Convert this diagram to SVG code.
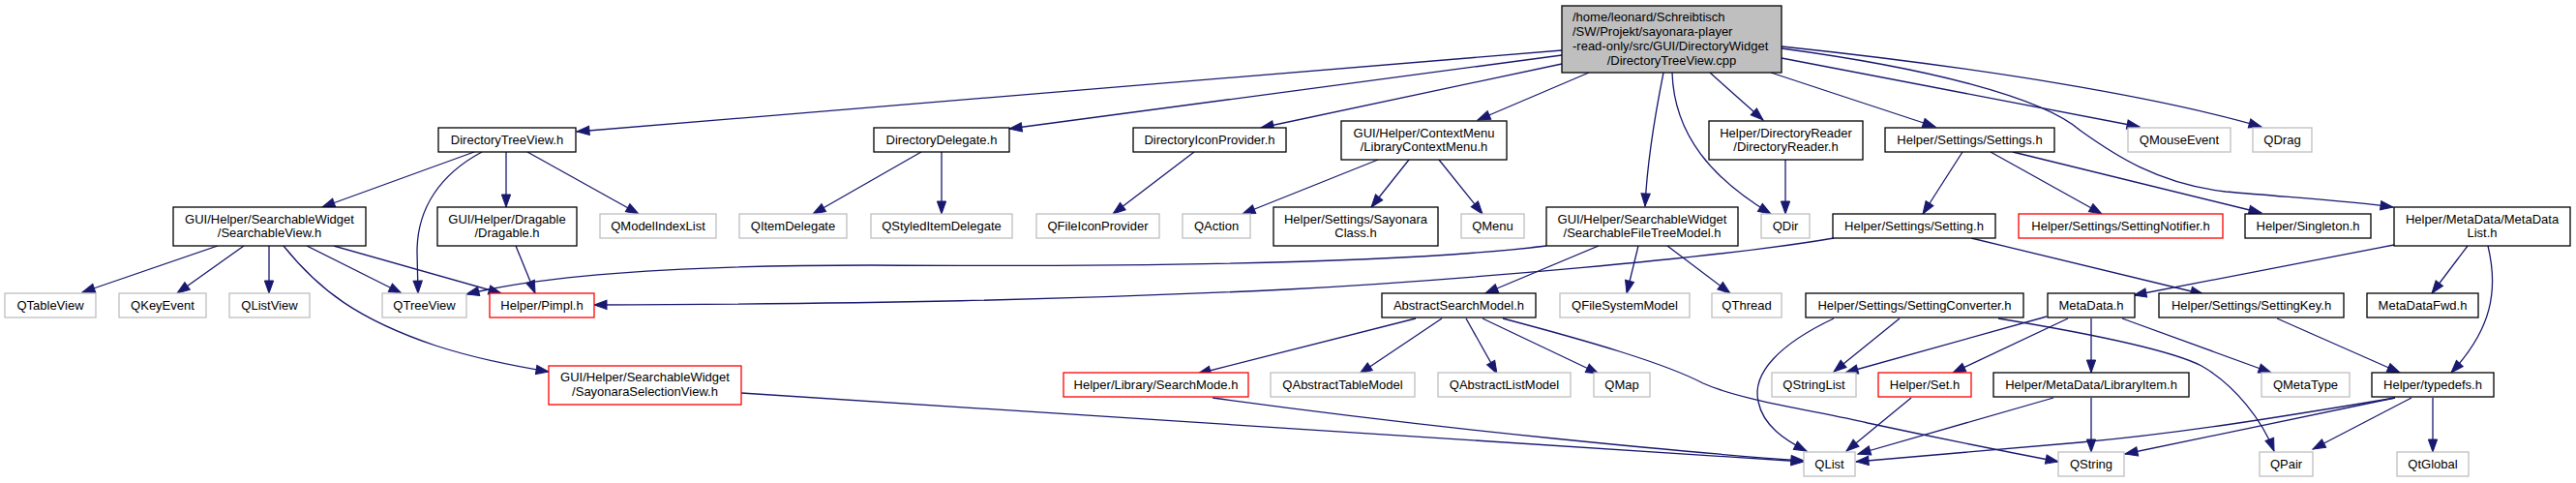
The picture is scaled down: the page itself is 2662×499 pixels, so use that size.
<svg xmlns="http://www.w3.org/2000/svg" width="2662" height="499" viewBox="0 0 2662 499">
<style>
.b{fill:#fff;stroke:#000;stroke-width:1.3}
.g{fill:#fff;stroke:#bfbfbf;stroke-width:1.3}
.r{fill:#fff;stroke:#ff0000;stroke-width:1.3}
.root{fill:#bfbfbf;stroke:#000;stroke-width:1.3}
text{font-family:"Liberation Sans",Arial,Helvetica,sans-serif;font-size:13px;fill:#000;text-anchor:middle}
.e path{fill:none;stroke:#191970;stroke-width:1.3;marker-end:url(#a)}
</style>
<defs>
<marker id="a" markerWidth="14" markerHeight="10" refX="13" refY="4.65" orient="auto" markerUnits="userSpaceOnUse" overflow="visible"><path d="M0,0 L13,4.65 L0,9.3 z" fill="#191970" stroke="#191970" stroke-width="1"/></marker>
</defs>
<rect width="2662" height="499" fill="#fff"/>
<g class="e" id="edges">
<path d="M1614,52 L596,136"/>
<path d="M1614,57 L1043,133"/>
<path d="M1614,66 L1303,132"/>
<path d="M1642,75 L1527,124"/>
<path d="M1719,75 C1710,120 1702,170 1700,213"/>
<path d="M1728,75 C1730,140 1770,185 1830,221"/>
<path d="M1767,75 L1822,124"/>
<path d="M1830,75 L2000,131"/>
<path d="M1841,60 L2211,131"/>
<path d="M1841,48 C2050,70 2230,100 2337,131"/>
<path d="M1841,50 C1990,70 2110,100 2150,135 C2185,160 2230,190 2300,198 C2380,205 2430,208 2473,214"/>
<path d="M1845,165 L1845,221"/>
<path d="M2028,157 L1987,221"/>
<path d="M2057,157 L2172,221"/>
<path d="M2080,157 L2337,220"/>
<path d="M490,157 L333,214"/>
<path d="M498,157 C455,180 431,215 431,260 L432,303"/>
<path d="M523,157 L523,214"/>
<path d="M545,157 L660,221"/>
<path d="M533,254 L553,303"/>
<path d="M952,157 L840,221"/>
<path d="M973,157 L973,221"/>
<path d="M1234,157 L1150,221"/>
<path d="M1424,165 L1284,221"/>
<path d="M1456,165 L1417,214"/>
<path d="M1487,165 L1532,221"/>
<path d="M1652,254 L1535,303"/>
<path d="M1693,254 L1681,303"/>
<path d="M1723,254 L1788,303"/>
<path d="M1598,254 C1450,272 1200,276 900,274 C700,274 560,285 482,304"/>
<path d="M1895,246 C1780,266 1500,290 1330,299 C1100,310 900,314 614,315"/>
<path d="M225,254 L85,302"/>
<path d="M252,254 L183,303"/>
<path d="M278,254 L278,303"/>
<path d="M293,254 C330,300 370,330 450,357 C490,370 530,378 567,384"/>
<path d="M317,254 L415,303"/>
<path d="M345,254 L518,303"/>
<path d="M766,406 L1864,477"/>
<path d="M1253,411 C1500,445 1750,468 1864,476"/>
<path d="M1463,329 L1238,386"/>
<path d="M1490,329 L1405,386"/>
<path d="M1515,329 L1547,386"/>
<path d="M1532,329 L1652,386"/>
<path d="M1553,329 C1640,352 1720,375 1760,396 C1800,414 1880,425 1930,437 C2000,452 2080,468 2127,477"/>
<path d="M1895,329 C1840,355 1810,385 1817,415 C1822,440 1845,455 1867,466"/>
<path d="M1963,329 L1895,384"/>
<path d="M2065,329 C2150,343 2240,360 2275,378 C2310,398 2338,435 2350,466"/>
<path d="M2037,246 L2277,304"/>
<path d="M2474,253 L2205,305"/>
<path d="M2550,254 L2513,303"/>
<path d="M2571,254 C2582,300 2575,340 2533,385"/>
<path d="M2353,329 L2480,385"/>
<path d="M2115,327 L1907,385"/>
<path d="M2137,329 L2018,385"/>
<path d="M2161,329 L2161,385"/>
<path d="M2193,329 L2347,385"/>
<path d="M2122,411 L1920,469"/>
<path d="M2161,411 L2161,467"/>
<path d="M1975,411 L1908,466"/>
<path d="M2475,411 C2350,432 2250,448 2150,457 C2050,465 1970,473 1918,477"/>
<path d="M2475,411 L2196,469"/>
<path d="M2492,411 L2390,464"/>
<path d="M2514,411 L2514,467"/>
</g>
<g id="root"><rect class="root" x="1614" y="6" width="227" height="69"/>
<text x="1625" y="21.5" style="text-anchor:start">/home/leonard/Schreibtisch</text>
<text x="1625" y="36.5" style="text-anchor:start">/SW/Projekt/sayonara-player</text>
<text x="1625" y="51.5" style="text-anchor:start">-read-only/src/GUI/DirectoryWidget</text>
<text x="1727.5" y="66.5">/DirectoryTreeView.cpp</text></g>
<g id="n_dtv"><rect class="b" x="453" y="132" width="142" height="25"/><text x="524" y="148.5">DirectoryTreeView.h</text></g>
<g id="n_dd"><rect class="b" x="903" y="132" width="140" height="25"/><text x="973" y="148.5">DirectoryDelegate.h</text></g>
<g id="n_dip"><rect class="b" x="1171" y="132" width="158" height="25"/><text x="1250" y="148.5">DirectoryIconProvider.h</text></g>
<g id="n_lcm"><rect class="b" x="1386" y="125" width="171" height="40"/><text x="1471.5" y="141.5">GUI/Helper/ContextMenu</text><text x="1471.5" y="156.3">/LibraryContextMenu.h</text></g>
<g id="n_dr"><rect class="b" x="1766" y="125" width="159" height="40"/><text x="1845.5" y="141.5">Helper/DirectoryReader</text><text x="1845.5" y="156.3">/DirectoryReader.h</text></g>
<g id="n_settings"><rect class="b" x="1948" y="132" width="175" height="25"/><text x="2035.5" y="148.5">Helper/Settings/Settings.h</text></g>
<g id="n_qmouseevent"><rect class="g" x="2199" y="132" width="106" height="25"/><text x="2252" y="148.5">QMouseEvent</text></g>
<g id="n_qdrag"><rect class="g" x="2328" y="132" width="61" height="25"/><text x="2358.5" y="148.5">QDrag</text></g>
<g id="n_sv"><rect class="b" x="179" y="214" width="199" height="40"/><text x="278.5" y="230.5">GUI/Helper/SearchableWidget</text><text x="278.5" y="245.3">/SearchableView.h</text></g>
<g id="n_drag"><rect class="b" x="452" y="214" width="144" height="40"/><text x="524" y="230.5">GUI/Helper/Dragable</text><text x="524" y="245.3">/Dragable.h</text></g>
<g id="n_qmil"><rect class="g" x="620" y="221" width="120" height="25"/><text x="680" y="237.5">QModelIndexList</text></g>
<g id="n_qid"><rect class="g" x="764" y="221" width="111" height="25"/><text x="819.5" y="237.5">QItemDelegate</text></g>
<g id="n_qsid"><rect class="g" x="900" y="221" width="146" height="25"/><text x="973" y="237.5">QStyledItemDelegate</text></g>
<g id="n_qfip"><rect class="g" x="1071" y="221" width="127" height="25"/><text x="1134.5" y="237.5">QFileIconProvider</text></g>
<g id="n_qaction"><rect class="g" x="1222" y="221" width="70" height="25"/><text x="1257" y="237.5">QAction</text></g>
<g id="n_sc"><rect class="b" x="1316" y="214" width="170" height="40"/><text x="1401" y="230.5">Helper/Settings/Sayonara</text><text x="1401" y="245.3">Class.h</text></g>
<g id="n_qmenu"><rect class="g" x="1510" y="221" width="65" height="25"/><text x="1542.5" y="237.5">QMenu</text></g>
<g id="n_sftm"><rect class="b" x="1598" y="214" width="198" height="40"/><text x="1697" y="230.5">GUI/Helper/SearchableWidget</text><text x="1697" y="245.3">/SearchableFileTreeModel.h</text></g>
<g id="n_qdir"><rect class="g" x="1820" y="221" width="50" height="25"/><text x="1845" y="237.5">QDir</text></g>
<g id="n_setting"><rect class="b" x="1894" y="221" width="168" height="25"/><text x="1978" y="237.5">Helper/Settings/Setting.h</text></g>
<g id="n_notifier"><rect class="r" x="2086" y="221" width="211" height="25"/><text x="2191.5" y="237.5">Helper/Settings/SettingNotifier.h</text></g>
<g id="n_singleton"><rect class="b" x="2320" y="221" width="130" height="25"/><text x="2385" y="237.5">Helper/Singleton.h</text></g>
<g id="n_mdl"><rect class="b" x="2474" y="214" width="182" height="40"/><text x="2565" y="230.5">Helper/MetaData/MetaData</text><text x="2565" y="245.3">List.h</text></g>
<g id="n_qtableview"><rect class="g" x="5" y="303" width="94" height="25"/><text x="52" y="319.5">QTableView</text></g>
<g id="n_qkeyevent"><rect class="g" x="123" y="303" width="90" height="25"/><text x="168" y="319.5">QKeyEvent</text></g>
<g id="n_qlistview"><rect class="g" x="237" y="303" width="83" height="25"/><text x="278.5" y="319.5">QListView</text></g>
<g id="n_qtreeview"><rect class="g" x="395" y="303" width="87" height="25"/><text x="438.5" y="319.5">QTreeView</text></g>
<g id="n_pimpl"><rect class="r" x="506" y="303" width="108" height="25"/><text x="560" y="319.5">Helper/Pimpl.h</text></g>
<g id="n_asm"><rect class="b" x="1428" y="303" width="159" height="25"/><text x="1507.5" y="319.5">AbstractSearchModel.h</text></g>
<g id="n_qfsm"><rect class="g" x="1612" y="303" width="134" height="25"/><text x="1679" y="319.5">QFileSystemModel</text></g>
<g id="n_qthread"><rect class="g" x="1769" y="303" width="72" height="25"/><text x="1805" y="319.5">QThread</text></g>
<g id="n_sconv"><rect class="b" x="1866" y="303" width="225" height="25"/><text x="1978.5" y="319.5">Helper/Settings/SettingConverter.h</text></g>
<g id="n_md"><rect class="b" x="2116" y="303" width="90" height="25"/><text x="2161" y="319.5">MetaData.h</text></g>
<g id="n_skey"><rect class="b" x="2231" y="303" width="191" height="25"/><text x="2326.5" y="319.5">Helper/Settings/SettingKey.h</text></g>
<g id="n_mdfwd"><rect class="b" x="2446" y="303" width="115" height="25"/><text x="2503.5" y="319.5">MetaDataFwd.h</text></g>
<g id="n_ssv"><rect class="r" x="567" y="378" width="199" height="40"/><text x="666.5" y="394.3">GUI/Helper/SearchableWidget</text><text x="666.5" y="409">/SayonaraSelectionView.h</text></g>
<g id="n_smode"><rect class="r" x="1099" y="385" width="191" height="25"/><text x="1194.5" y="401.5">Helper/Library/SearchMode.h</text></g>
<g id="n_qatm"><rect class="g" x="1313" y="385" width="149" height="25"/><text x="1387.5" y="401.5">QAbstractTableModel</text></g>
<g id="n_qalm"><rect class="g" x="1486" y="385" width="137" height="25"/><text x="1554.5" y="401.5">QAbstractListModel</text></g>
<g id="n_qmap"><rect class="g" x="1647" y="385" width="58" height="25"/><text x="1676" y="401.5">QMap</text></g>
<g id="n_qsl"><rect class="g" x="1831" y="385" width="87" height="25"/><text x="1874.5" y="401.5">QStringList</text></g>
<g id="n_set"><rect class="r" x="1941" y="385" width="96" height="25"/><text x="1989" y="401.5">Helper/Set.h</text></g>
<g id="n_li"><rect class="b" x="2060" y="385" width="202" height="25"/><text x="2161" y="401.5">Helper/MetaData/LibraryItem.h</text></g>
<g id="n_qmt"><rect class="g" x="2337" y="385" width="91" height="25"/><text x="2382.5" y="401.5">QMetaType</text></g>
<g id="n_typedefs"><rect class="b" x="2451" y="385" width="126" height="25"/><text x="2514" y="401.5">Helper/typedefs.h</text></g>
<g id="n_qlist"><rect class="g" x="1864" y="467" width="53" height="25"/><text x="1890.5" y="483.5">QList</text></g>
<g id="n_qstring"><rect class="g" x="2127" y="467" width="68" height="25"/><text x="2161" y="483.5">QString</text></g>
<g id="n_qpair"><rect class="g" x="2335" y="467" width="55" height="25"/><text x="2362.5" y="483.5">QPair</text></g>
<g id="n_qtglobal"><rect class="g" x="2477" y="467" width="74" height="25"/><text x="2514" y="483.5">QtGlobal</text></g>
</svg>
